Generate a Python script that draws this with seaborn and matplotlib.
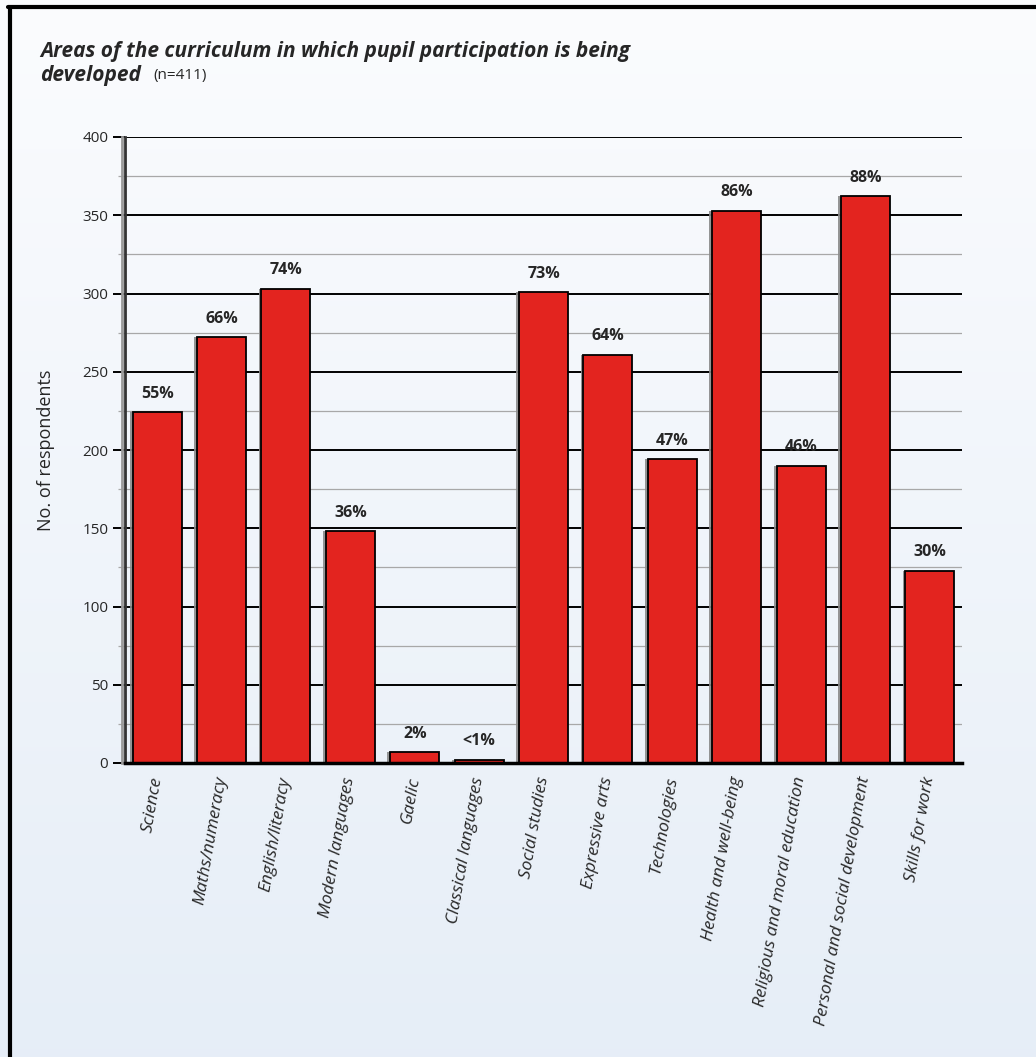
import numpy as np
import pandas as pd
import matplotlib
matplotlib.use("Agg")
import matplotlib.pyplot as plt
import matplotlib.patheffects as pe
from matplotlib.lines import Line2D
from matplotlib.ticker import MultipleLocator
import seaborn as sns

# Curriculum areas and number of respondents (n=411)
areas = [
    "Science", "Maths/numeracy", "English/literacy", "Modern languages",
    "Gaelic", "Classical languages", "Social studies", "Expressive arts",
    "Technologies", "Health and well-being", "Religious and moral education",
    "Personal and social development", "Skills for work",
]
respondents = [224, 272, 303, 148, 7, 2, 301, 261, 194, 353, 190, 362, 123]
pct_labels = ["55%", "66%", "74%", "36%", "2%", "<1%", "73%", "64%",
              "47%", "86%", "46%", "88%", "30%"]

sns.set_style("ticks")
plt.rcParams["font.family"] = ["Open Sans", "DejaVu Sans"]

df = pd.DataFrame({"area": areas, "n": respondents})

fig = plt.figure(figsize=(10.36, 10.57), dpi=100)

# soft vertical gradient backdrop
bg = fig.add_axes([0, 0, 1, 1], zorder=-10)
grad = np.linspace(0, 1, 256)[:, None]
top_c = np.array([0.984, 0.988, 0.996])
bot_c = np.array([0.902, 0.933, 0.969])
img = top_c[None, None, :] * (1 - grad[:, :, None]) + bot_c[None, None, :] * grad[:, :, None]
bg.imshow(img, aspect="auto", extent=[0, 1, 0, 1])
bg.set_axis_off()

# frame lines along top and left
fig.add_artist(Line2D([8 / 1036, 1.0], [1 - 7 / 1057, 1 - 7 / 1057],
                      transform=fig.transFigure, color="black", lw=3))
fig.add_artist(Line2D([9.5 / 1036, 9.5 / 1036], [0, 1 - 7 / 1057],
                      transform=fig.transFigure, color="black", lw=3))

ax = fig.add_axes([125 / 1036, 1 - 763 / 1057, (962 - 125) / 1036, (763 - 137) / 1057])
ax.set_facecolor("none")

sns.barplot(data=df, x="area", y="n", color="#e3241f", saturation=1,
            edgecolor="black", linewidth=1.3, width=0.76, ax=ax, zorder=3)

for bar in ax.patches:
    bar.set_path_effects([pe.SimplePatchShadow(offset=(-2, 0), shadow_rgbFace="#8a8a8a", alpha=0.9),
                          pe.Normal()])

for i, (v, lab) in enumerate(zip(respondents, pct_labels)):
    ax.annotate(lab, (i, v), xytext=(0, 7.5), textcoords="offset points",
                ha="center", va="bottom", fontsize=11.5, fontweight="bold", zorder=4)

ax.set_ylim(0, 400)
ax.set_xlim(-0.5, len(areas) - 0.5)
ax.yaxis.set_major_locator(MultipleLocator(50))
ax.yaxis.set_minor_locator(MultipleLocator(25))
ax.grid(axis="y", which="major", color="black", lw=1.4, zorder=1)
ax.grid(axis="y", which="minor", color="#a8a8a8", lw=0.9, zorder=1)
ax.set_axisbelow(True)

ax.tick_params(axis="y", which="major", length=9, width=1.4, color="black",
               labelsize=11, pad=3)
ax.tick_params(axis="y", which="minor", length=5, width=0.9, color="#a8a8a8")
ax.tick_params(axis="x", length=0, pad=10)

ax.set_xticks(range(len(areas)))
ax.set_xticklabels(areas, rotation=80, ha="right", va="center",
                   rotation_mode="anchor", fontstyle="italic", fontsize=12.5)

for s in ["top", "right"]:
    ax.spines[s].set_visible(False)
ax.spines["left"].set_color("#333333")
ax.spines["left"].set_linewidth(2)
ax.spines["left"].set_path_effects([pe.SimpleLineShadow(offset=(-2, 0), shadow_color="#9a9a9a", alpha=1),
                                    pe.Normal()])
ax.spines["bottom"].set_color("black")
ax.spines["bottom"].set_linewidth(2.5)
ax.spines["bottom"].set_zorder(5)

ax.set_xlabel("")
ax.set_ylabel("No. of respondents", fontsize=13, labelpad=20)

fig.text(40 / 1036, 1 - 52 / 1057, "Areas of the curriculum in which pupil participation is being",
         fontsize=15, fontweight="bold", fontstyle="italic", va="center", ha="left")
fig.text(40 / 1036, 1 - 75 / 1057, "developed",
         fontsize=15, fontweight="bold", fontstyle="italic", va="center", ha="left")
fig.text(153 / 1036, 1 - 76 / 1057, "(n=411)", fontsize=11, va="center", ha="left")

fig.savefig("out.png", dpi=100)
